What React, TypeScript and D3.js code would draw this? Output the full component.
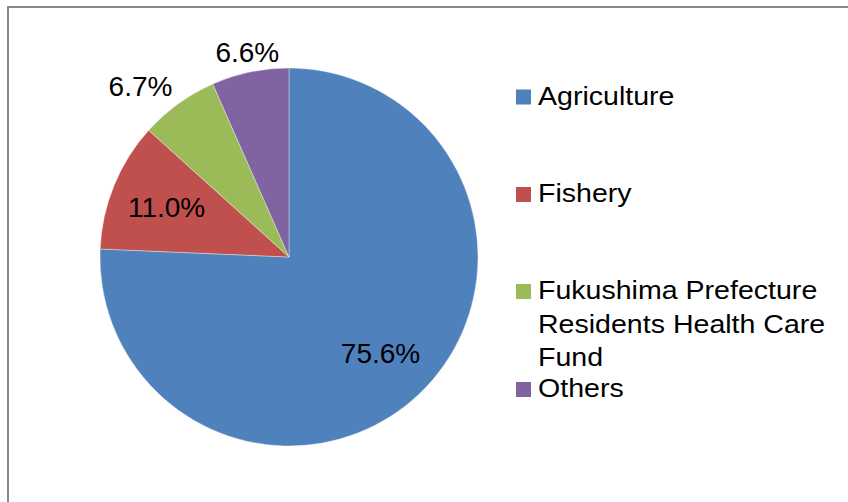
import * as d3 from "d3";

const categories = [
  "Agriculture",
  "Fishery",
  "Fukushima Prefecture Residents Health Care Fund",
  "Others",
];
const legendLines = [
  ["Agriculture"],
  ["Fishery"],
  ["Fukushima Prefecture", "Residents Health Care", "Fund"],
  ["Others"],
];
const values = [75.6, 11.0, 6.7, 6.6];
const valueLabels = ["75.6%", "11.0%", "6.7%", "6.6%"];
const colors = ["#4F81BD", "#C0504D", "#9BBB59", "#8064A2"];

const width = 848;
const height = 502;

export default function App() {
  const cx = 289;
  const cy = 257;
  const r = 189;

  const pie = d3
    .pie<number>()
    .sort(null)
    .value((d) => d);
  const arcs = pie(values);
  const arc = d3.arc<d3.PieArcDatum<number>>().innerRadius(0).outerRadius(r);
  const labelArc = d3
    .arc<d3.PieArcDatum<number>>()
    .innerRadius(r * 0.7)
    .outerRadius(r * 0.7);

  const total = d3.sum(values);
  const labelFont = 28;
  const capH = 20;

  // returns [textCenterX, baselineY]
  const labelPos = (a: d3.PieArcDatum<number>, text: string) => {
    if (a.value / total > 0.1) {
      const [x, y] = labelArc.centroid(a);
      return [x, y + capH / 2];
    }
    // outside labels: anchor just outside the rim, box pushed away from it
    const mid = (a.startAngle + a.endAngle) / 2;
    const s = Math.sin(mid);
    const c = Math.cos(mid);
    const px = (r + 10) * s;
    const py = -(r + 10) * c;
    const w = text.length * 0.57 * labelFont;
    const hx = Math.max(0, Math.min(1, (Math.abs(s) - 0.2) / 0.3));
    const vy = Math.max(0, Math.min(1, (Math.abs(c) - 0.2) / 0.3));
    const x = px + Math.sign(s) * (w / 2) * hx;
    const y = py + (c < 0 ? capH : 0) * vy + (1 - vy) * capH / 2;
    return [x, y];
  };

  // legend rows
  const legendBaselines = [104.5, 202, 299, 397];
  const lineStep = 33.5;

  return (
    <svg
      width={width}
      height={height}
      viewBox={`0 0 ${width} ${height}`}
      style={{ position: "absolute", left: 0, top: 0, display: "block" }}
      fontFamily="'Liberation Sans', Arial, sans-serif"
    >
      <rect x={0} y={0} width={width} height={height} fill="#fff" />
      <rect
        x={8}
        y={7}
        width={width + 10}
        height={height + 10}
        fill="none"
        stroke="#888"
        strokeWidth={2}
      />

      <g transform={`translate(${cx},${cy})`}>
        {arcs.map((a, i) => (
          <path
            key={categories[i]}
            d={arc(a) || ""}
            fill={colors[i]}
            stroke="#fff"
            strokeOpacity={0.45}
            strokeWidth={0.8}
          />
        ))}
        {arcs.map((a, i) => {
          const [x, y] = labelPos(a, valueLabels[i]);
          return (
            <text
              key={"l" + i}
              x={x}
              y={y}
              textAnchor="middle"
              fontSize={labelFont}
              fill="#000"
            >
              {valueLabels[i]}
            </text>
          );
        })}
      </g>

      <g>
        {legendLines.map((lines, i) => (
          <g key={categories[i]}>
            <rect
              x={516}
              y={legendBaselines[i] - 15}
              width={15}
              height={15}
              fill={colors[i]}
            />
            {lines.map((ln, j) => (
              <text
                key={ln}
                transform={`translate(538,${legendBaselines[i] + j * lineStep}) scale(1.12,1)`}
                fontSize={25.5}
                fill="#000"
              >
                {ln}
              </text>
            ))}
          </g>
        ))}
      </g>
    </svg>
  );
}
